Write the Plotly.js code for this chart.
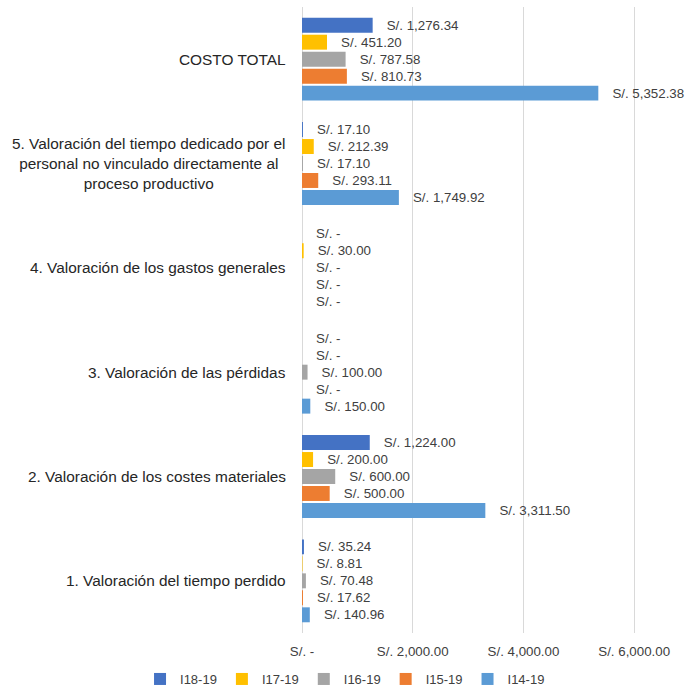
<!DOCTYPE html>
<html><head><meta charset="utf-8">
<script src="https://cdn.plot.ly/plotly-3.0.1.min.js"></script>
<style>body{margin:0;background:#fff}#chart{width:693px;height:689px}</style>
</head><body><div id="chart"></div>
<script>
const categories = [
  "1. Valoración del tiempo perdido",
  "2. Valoración de los costes materiales",
  "3. Valoración de las pérdidas",
  "4. Valoración de los gastos generales",
  "5. Valoración del tiempo dedicado por el<br>personal no vinculado directamente al<br>proceso productivo",
  "COSTO TOTAL"
];
const seriesNames = ["I14-19", "I15-19", "I16-19", "I17-19", "I18-19"];
const I14_19 = [140.96, 3311.50, 150.00, 0, 1749.92, 5352.38];
const I15_19 = [17.62, 500.00, 0, 0, 293.11, 810.73];
const I16_19 = [70.48, 600.00, 100.00, 0, 17.10, 787.58];
const I17_19 = [8.81, 200.00, 0, 30.00, 212.39, 451.20];
const I18_19 = [35.24, 1224.00, 0, 0, 17.10, 1276.34];
const colors = ["#5B9BD5", "#ED7D31", "#A5A5A5", "#FFC000", "#4472C4"];
const xTickVals = [0, 2000, 4000, 6000];
const xTickText = ["S/. -", "S/. 2,000.00", "S/. 4,000.00", "S/. 6,000.00"];

const PAD = "\u00a0\u00a0\u00a0";
function fmt(v) {
  if (v === 0) return PAD + "S/. -";
  return PAD + "S/. " + v.toLocaleString("en-US", {minimumFractionDigits: 2, maximumFractionDigits: 2});
}
const FONT = "Liberation Sans, Arial, sans-serif";
const allSeries = [I14_19, I15_19, I16_19, I17_19, I18_19];
const traces = allSeries.map((vals, i) => ({
  type: "bar",
  orientation: "h",
  name: seriesNames[i],
  y: categories,
  x: vals,
  marker: {color: colors[i]},
  text: vals.map(fmt),
  textposition: "outside",
  constraintext: "none",
  cliponaxis: false,
  textfont: {family: FONT, size: 13.3, color: "#404040"},
  hoverinfo: "none"
}));

const annotations = categories.map(c => ({
  xref: "paper", yref: "y", x: 0, y: c, xanchor: "right", yanchor: "middle",
  xshift: -14, align: "center", showarrow: false, text: c,
  font: {family: FONT, size: 15.4, color: "#262626"}
}));

const layout = {
  width: 693, height: 689,
  margin: {l: 302, r: 9, t: 7, b: 56, autoexpand: false},
  paper_bgcolor: "#fff", plot_bgcolor: "#fff",
  barmode: "group", bargap: 0.186, bargroupgap: 0.12,
  showlegend: true,
  legend: {orientation: "h", traceorder: "reversed",
    x: -0.424, xanchor: "left", y: -0.0735, yanchor: "middle",
    font: {family: FONT, size: 13, color: "#404040"}, itemwidth: 30},
  xaxis: {range: [0, 6900], tickvals: xTickVals, ticktext: xTickText, showgrid: true, gridcolor: "#D9D9D9",
    zeroline: true, zerolinecolor: "#D9D9D9", showline: false, ticks: "",
    tickfont: {family: FONT, size: 13.3, color: "#404040"}, ticklabelstandoff: 9, fixedrange: true},
  yaxis: {showticklabels: false, showgrid: false, zeroline: false, showline: false, ticks: "", fixedrange: true},
  annotations: annotations
};
Plotly.newPlot("chart", traces, layout, {displayModeBar: false, staticPlot: true});
</script></body></html>
